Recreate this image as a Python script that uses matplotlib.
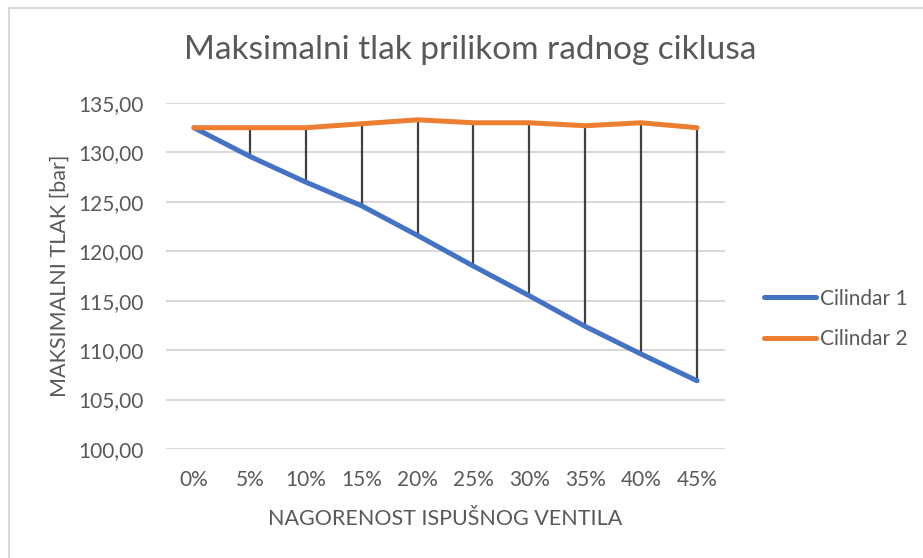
import matplotlib
matplotlib.use("Agg")
import matplotlib.pyplot as plt
from matplotlib.patches import Rectangle

categories = ["0%", "5%", "10%", "15%", "20%", "25%", "30%", "35%", "40%", "45%"]
cilindar1 = [132.5, 129.6, 127.0, 124.6, 121.6, 118.5, 115.5, 112.4, 109.6, 106.9]
cilindar2 = [132.5, 132.5, 132.5, 132.9, 133.3, 133.0, 133.0, 132.7, 133.0, 132.5]
y_ticks = [100, 105, 110, 115, 120, 125, 130, 135]

FONT = "Lato"
TXT = "#595959"
plt.rcParams["font.family"] = [FONT, "DejaVu Sans"]

fig = plt.figure(figsize=(9.23, 5.58), dpi=100)
border = Rectangle((9 / 923, -0.1), 1.2, 1.1 - 8 / 558, transform=fig.transFigure,
                   facecolor="white", edgecolor="#d9d9d9", linewidth=1.5, zorder=-10)
fig.patches.append(border)

ax = fig.add_axes([166 / 923, 1 - 449 / 558, (725 - 166) / 923, (449 - 103) / 558])
ax.patch.set_alpha(0)
x = list(range(len(categories)))

ax.vlines(x, cilindar1, cilindar2, colors="#404040", linewidth=1.6, zorder=2)
ax.plot(x, cilindar1, color="#4472C4", linewidth=3.6, solid_capstyle="round", label="Cilindar 1", zorder=3)
ax.plot(x, cilindar2, color="#ED7D31", linewidth=3.6, solid_capstyle="round", label="Cilindar 2", zorder=3)

ax.set_xlim(-0.5, len(categories) - 0.5)
ax.set_ylim(100, 135)
ax.set_yticks(y_ticks)
ax.set_yticklabels([f"{v:.2f}".replace(".", ",") for v in y_ticks])
ax.set_xticks(x)
ax.set_xticklabels(categories)
ax.grid(axis="y", color="#d9d9d9", linewidth=1.5)
ax.set_axisbelow(True)
for s in ax.spines.values():
    s.set_visible(False)
ax.tick_params(axis="both", length=0, labelsize=15, labelcolor=TXT)
ax.tick_params(axis="y", pad=16)
ax.tick_params(axis="x", pad=15)

ax.set_ylabel("MAKSIMALNI TLAK [bar]", fontsize=15.5, color=TXT)
ax.yaxis.set_label_coords(-0.172, 0.5)
ax.set_xlabel("NAGORENOST ISPUŠNOG VENTILA", fontsize=15.5, color=TXT)
ax.xaxis.set_label_coords(0.5, -0.172)

fig.text(470 / 923, 1 - 50 / 558, "Maksimalni tlak prilikom radnog ciklusa", fontsize=24,
         color=TXT, ha="center", va="center")

leg = fig.legend(loc="center left", bbox_to_anchor=(745 / 923, 1 - 319 / 558), frameon=False,
                 fontsize=15, handlelength=2.5, handletextpad=0.2, labelspacing=1.0, labelcolor=TXT)

fig.savefig("out.png", dpi=100, facecolor="white")
